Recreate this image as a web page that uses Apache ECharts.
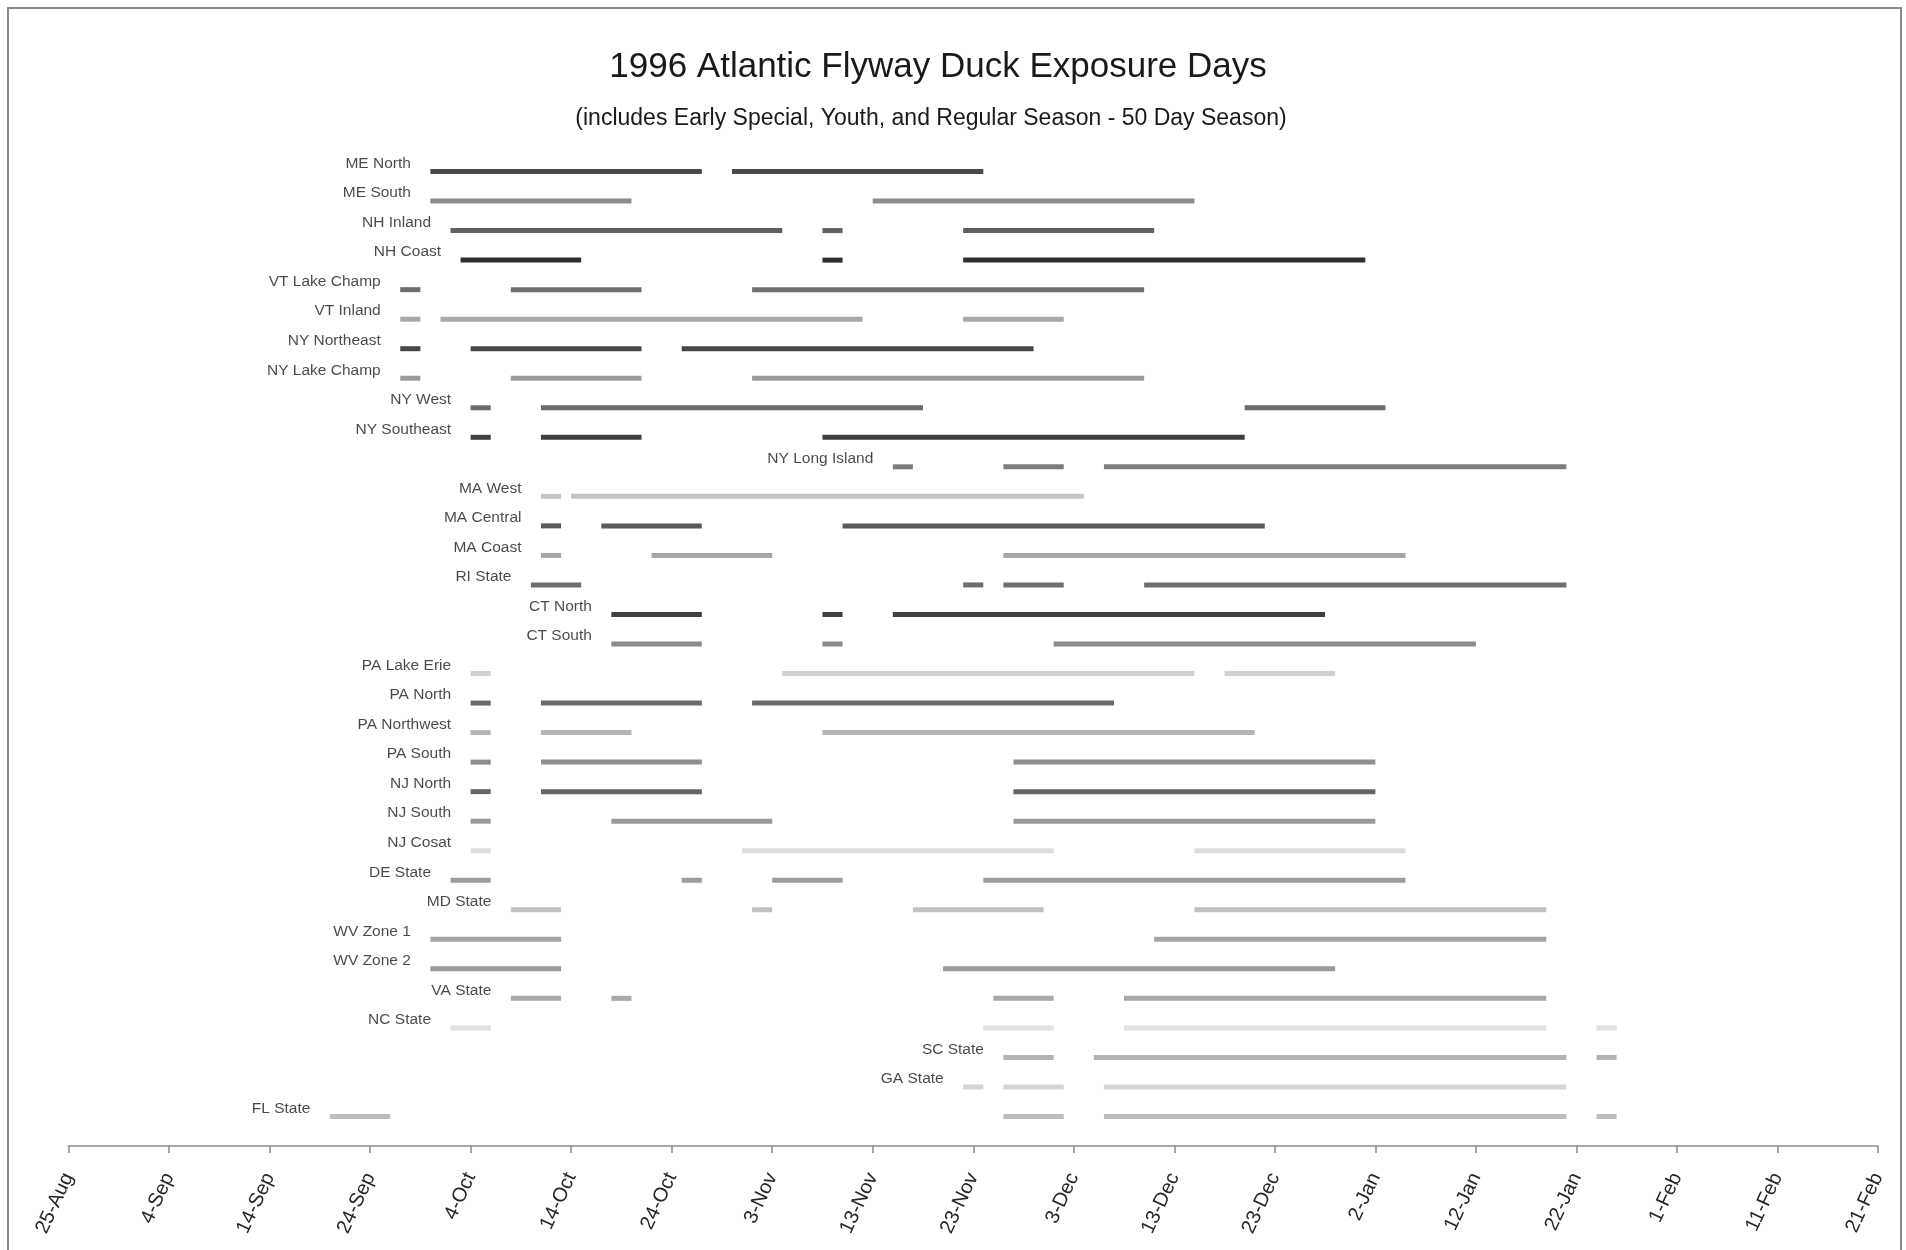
<!DOCTYPE html>
<html>
<head>
<meta charset="utf-8">
<title>1996 Atlantic Flyway Duck Exposure Days</title>
<script src="https://cdn.jsdelivr.net/npm/echarts@6/dist/echarts.min.js"></script>
<style>
  html, body { margin: 0; padding: 0; background: #fff; }
  #main { width: 1906px; height: 1250px; }
</style>
</head>
<body>
<div id="main"></div>
<script>
// zones, top to bottom
var zones = ['ME North', 'ME South', 'NH Inland', 'NH Coast', 'VT Lake Champ', 'VT Inland',
    'NY Northeast', 'NY Lake Champ', 'NY West', 'NY Southeast', 'NY Long Island',
    'MA West', 'MA Central', 'MA Coast', 'RI State', 'CT North', 'CT South',
    'PA Lake Erie', 'PA North', 'PA Northwest', 'PA South', 'NJ North', 'NJ South',
    'NJ Cosat', 'DE State', 'MD State', 'WV Zone 1', 'WV Zone 2', 'VA State',
    'NC State', 'SC State', 'GA State', 'FL State'];

// start / end of each season piece (month-day, Aug..Dec = 1996, Jan..Feb = 1997)
var seasons = [
    [['09-30', '10-27'], ['10-30', '11-24']],
    [['09-30', '10-20'], ['11-13', '12-15']],
    [['10-02', '11-04'], ['11-08', '11-10'], ['11-22', '12-11']],
    [['10-03', '10-15'], ['11-08', '11-10'], ['11-22', '01-01']],
    [['09-27', '09-29'], ['10-08', '10-21'], ['11-01', '12-10']],
    [['09-27', '09-29'], ['10-01', '11-12'], ['11-22', '12-02']],
    [['09-27', '09-29'], ['10-04', '10-21'], ['10-25', '11-29']],
    [['09-27', '09-29'], ['10-08', '10-21'], ['11-01', '12-10']],
    [['10-04', '10-06'], ['10-11', '11-18'], ['12-20', '01-03']],
    [['10-04', '10-06'], ['10-11', '10-21'], ['11-08', '12-20']],
    [['11-15', '11-17'], ['11-26', '12-02'], ['12-06', '01-21']],
    [['10-11', '10-13'], ['10-14', '12-04']],
    [['10-11', '10-13'], ['10-17', '10-27'], ['11-10', '12-22']],
    [['10-11', '10-13'], ['10-22', '11-03'], ['11-26', '01-05']],
    [['10-10', '10-15'], ['11-22', '11-24'], ['11-26', '12-02'], ['12-10', '01-21']],
    [['10-18', '10-27'], ['11-08', '11-10'], ['11-15', '12-28']],
    [['10-18', '10-27'], ['11-08', '11-10'], ['12-01', '01-12']],
    [['10-04', '10-06'], ['11-04', '12-15'], ['12-18', '12-29']],
    [['10-04', '10-06'], ['10-11', '10-27'], ['11-01', '12-07']],
    [['10-04', '10-06'], ['10-11', '10-20'], ['11-08', '12-21']],
    [['10-04', '10-06'], ['10-11', '10-27'], ['11-27', '01-02']],
    [['10-04', '10-06'], ['10-11', '10-27'], ['11-27', '01-02']],
    [['10-04', '10-06'], ['10-18', '11-03'], ['11-27', '01-02']],
    [['10-04', '10-06'], ['10-31', '12-01'], ['12-15', '01-05']],
    [['10-02', '10-06'], ['10-25', '10-27'], ['11-03', '11-10'], ['11-24', '01-05']],
    [['10-08', '10-13'], ['11-01', '11-03'], ['11-17', '11-30'], ['12-15', '01-19']],
    [['09-30', '10-13'], ['12-11', '01-19']],
    [['09-30', '10-13'], ['11-20', '12-29']],
    [['10-08', '10-13'], ['10-18', '10-20'], ['11-25', '12-01'], ['12-08', '01-19']],
    [['10-02', '10-06'], ['11-24', '12-01'], ['12-08', '01-19'], ['01-24', '01-26']],
    [['11-26', '12-01'], ['12-05', '01-21'], ['01-24', '01-26']],
    [['11-22', '11-24'], ['11-26', '12-02'], ['12-06', '01-21']],
    [['09-20', '09-26'], ['11-26', '12-02'], ['12-06', '01-21'], ['01-24', '01-26']]
];

var tickLabels = ['25-Aug', '4-Sep', '14-Sep', '24-Sep', '4-Oct', '14-Oct', '24-Oct', '3-Nov',
    '13-Nov', '23-Nov', '3-Dec', '13-Dec', '23-Dec', '2-Jan', '12-Jan', '22-Jan',
    '1-Feb', '11-Feb', '21-Feb'];

// gray shade per zone
var rowColors = ['#4a4a4a', '#8c8c8c', '#5f5f5f', '#2e2e2e', '#6f6f6f', '#a8a8a8',
    '#474747', '#9a9a9a', '#6a6a6a', '#3f3f3f', '#7d7d7d',
    '#c4c4c4', '#5a5a5a', '#a6a6a6', '#6e6e6e', '#404040', '#8a8a8a',
    '#d0d0d0', '#6b6b6b', '#b5b5b5', '#8e8e8e', '#666666', '#999999',
    '#dedede', '#9c9c9c', '#c2c2c2', '#a4a4a4', '#9a9a9a', '#a9a9a9',
    '#e0e0e0', '#b3b3b3', '#d6d6d6', '#bdbdbd'];

var FONT = "'Liberation Sans', Arial, sans-serif";
var DAY0 = Date.UTC(1996, 7, 25);

// days since 25-Aug
function dayOf(md) {
    var m = parseInt(md.split('-')[0], 10);
    var d = parseInt(md.split('-')[1], 10);
    var y = m < 8 ? 1997 : 1996;
    return (Date.UTC(y, m - 1, d) - DAY0) / 86400000;
}

var segData = [];
var labelData = [];
for (var i = 0; i < zones.length; i++) {
    for (var j = 0; j < seasons[i].length; j++) {
        segData.push([dayOf(seasons[i][j][0]), dayOf(seasons[i][j][1]), i]);
    }
    labelData.push({ name: zones[i], value: [dayOf(seasons[i][0][0]), i] });
}

var myChart = echarts.init(document.getElementById('main'));

var option = {
    backgroundColor: '#fff',
    animation: false,
    title: [
        {
            text: '1996 Atlantic Flyway Duck Exposure Days',
            left: 933,
            top: 45,
            textAlign: 'center',
            textStyle: { fontFamily: FONT, fontSize: 35, fontWeight: 'normal', color: '#1a1a1a' }
        },
        {
            text: '(includes Early Special, Youth, and Regular Season - 50 Day Season)',
            left: 926,
            top: 102,
            textAlign: 'center',
            textStyle: { fontFamily: FONT, fontSize: 23, fontWeight: 'normal', color: '#1a1a1a' }
        }
    ],
    graphic: [
        {
            type: 'rect',
            shape: { x: 8, y: 8, width: 1893, height: 1262 },
            style: { fill: 'none', stroke: '#8a8a8a', lineWidth: 2 },
            silent: true
        }
    ],
    grid: {
        left: 68.5,
        right: 28,
        top: 142,
        bottom: 104
    },
    xAxis: {
        type: 'value',
        min: 0,
        max: 180,
        interval: 10,
        splitLine: { show: false },
        axisLine: { onZero: false, lineStyle: { color: '#8a8a8a', width: 1.5 } },
        axisTick: { length: 7, lineStyle: { color: '#8a8a8a', width: 1.5 } },
        axisLabel: {
            rotate: 65,
            margin: 28,
            fontFamily: FONT,
            fontSize: 20,
            color: '#262626',
            formatter: function (v) {
                return tickLabels[Math.round(v / 10)];
            }
        }
    },
    yAxis: {
        type: 'value',
        inverse: true,
        min: -1,
        max: 33,
        axisLine: { show: false },
        axisTick: { show: false },
        axisLabel: { show: false },
        splitLine: { show: false }
    },
    series: [
        {
            type: 'custom',
            encode: { x: [0, 1], y: 2 },
            data: segData,
            renderItem: function (params, api) {
                var s = api.coord([api.value(0), api.value(2)]);
                var e = api.coord([api.value(1), api.value(2)]);
                return {
                    type: 'line',
                    shape: { x1: s[0], y1: s[1], x2: e[0], y2: e[1] },
                    style: {
                        stroke: rowColors[api.value(2)],
                        lineWidth: 5,
                        lineCap: 'butt'
                    }
                };
            }
        },
        {
            type: 'scatter',
            symbolSize: 1,
            itemStyle: { color: 'rgba(0,0,0,0)' },
            data: labelData,
            label: {
                show: true,
                position: 'left',
                distance: 19,
                offset: [0, -8],
                formatter: '{b}',
                fontFamily: FONT,
                fontSize: 15.5,
                color: '#1a1a1a'
            }
        }
    ]
};

myChart.setOption(option);
</script>
</body>
</html>
